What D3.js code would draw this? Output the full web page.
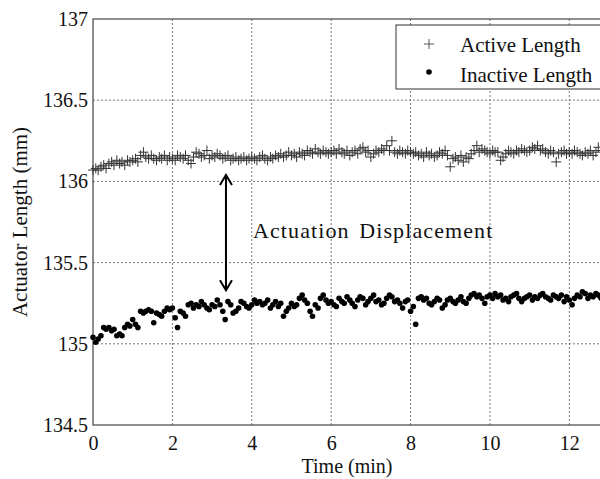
<!DOCTYPE html>
<html>
<head>
<meta charset="utf-8">
<script src="https://cdn.jsdelivr.net/npm/d3@7"></script>
<style>
  body { margin: 0; background: #fff; }
  svg { font-family: "Liberation Serif", "Times New Roman", serif; }
</style>
</head>
<body>
<svg id="svg1" width="600" height="479"></svg>
<script>
// sample times (min)
const times = [
  0.00,0.07,0.13,0.20,0.27,0.33,0.40,0.47,0.53,0.60,0.67,0.73,0.80,0.87,0.93,
  1.00,1.07,1.13,1.20,1.27,1.33,1.40,1.47,1.53,1.60,1.67,1.73,1.80,1.87,1.93,
  2.00,2.07,2.13,2.20,2.27,2.33,2.40,2.47,2.53,2.60,2.67,2.73,2.80,2.87,2.93,
  3.00,3.07,3.13,3.20,3.27,3.33,3.40,3.47,3.53,3.60,3.67,3.73,3.80,3.87,3.93,
  4.00,4.07,4.13,4.20,4.27,4.33,4.40,4.47,4.53,4.60,4.67,4.73,4.80,4.87,4.93,
  5.00,5.07,5.13,5.20,5.27,5.33,5.40,5.47,5.53,5.60,5.67,5.73,5.80,5.87,5.93,
  6.00,6.07,6.13,6.20,6.27,6.33,6.40,6.47,6.53,6.60,6.67,6.73,6.80,6.87,6.93,
  7.00,7.07,7.13,7.20,7.27,7.33,7.40,7.47,7.53,7.60,7.67,7.73,7.80,7.87,7.93,
  8.00,8.07,8.13,8.20,8.27,8.33,8.40,8.47,8.53,8.60,8.67,8.73,8.80,8.87,8.93,
  9.00,9.07,9.13,9.20,9.27,9.33,9.40,9.47,9.53,9.60,9.67,9.73,9.80,9.87,9.93,
  10.00,10.07,10.13,10.20,10.27,10.33,10.40,10.47,10.53,10.60,10.67,10.73,10.80,10.87,10.93,
  11.00,11.07,11.13,11.20,11.27,11.33,11.40,11.47,11.53,11.60,11.67,11.73,11.80,11.87,11.93,
  12.00,12.07,12.13,12.20,12.27,12.33,12.40,12.47,12.53,12.60,12.67,12.73,12.80
];

const activeLength = [
  136.07,136.08,136.07,136.09,136.10,136.08,136.11,136.12,136.10,136.13,136.11,136.12,136.10,136.13,136.12,
  136.13,136.14,136.12,136.16,136.18,136.15,136.14,136.16,136.14,136.13,136.15,136.14,136.16,136.13,136.15,
  136.14,136.13,136.16,136.15,136.14,136.16,136.13,136.11,136.15,136.18,136.17,136.15,136.16,136.19,136.14,
  136.16,136.15,136.17,136.16,136.14,136.15,136.16,136.13,136.14,136.15,136.13,136.14,136.15,136.13,136.14,
  136.15,136.14,136.13,136.15,136.16,136.14,136.13,136.15,136.14,136.16,136.15,136.17,136.15,136.16,136.18,
  136.16,136.17,136.15,136.18,136.17,136.16,136.19,136.18,136.17,136.20,136.18,136.17,136.19,136.18,136.17,
  136.18,136.19,136.17,136.20,136.18,136.17,136.19,136.16,136.18,136.19,136.17,136.20,136.21,136.18,136.19,
  136.15,136.17,136.19,136.18,136.20,136.19,136.22,136.19,136.25,136.18,136.17,136.19,136.18,136.17,136.19,
  136.18,136.17,136.18,136.16,136.17,136.15,136.18,136.16,136.17,136.15,136.16,136.18,136.17,136.19,136.16,
  136.09,136.14,136.15,136.13,136.16,136.12,136.15,136.14,136.17,136.19,136.22,136.18,136.20,136.19,136.18,
  136.17,136.19,136.18,136.18,136.13,136.15,136.17,136.19,136.18,136.17,136.19,136.18,136.20,136.19,136.18,
  136.19,136.21,136.20,136.22,136.19,136.20,136.18,136.17,136.19,136.18,136.12,136.17,136.18,136.19,136.17,
  136.18,136.17,136.19,136.18,136.17,136.16,136.18,136.17,136.19,136.16,136.18,136.21,136.19
];

const inactiveLength = [
  135.04,135.01,135.03,135.05,135.10,135.09,135.10,135.08,135.09,135.05,135.06,135.05,135.10,135.12,135.11,
  135.15,135.12,135.10,135.20,135.19,135.20,135.21,135.20,135.13,135.19,135.18,135.17,135.20,135.22,135.21,
  135.22,135.16,135.10,135.20,135.19,135.17,135.24,135.25,135.22,135.24,135.23,135.26,135.24,135.22,135.21,
  135.24,135.23,135.27,135.24,135.20,135.15,135.26,135.24,135.19,135.20,135.22,135.26,135.25,135.23,135.22,
  135.24,135.27,135.25,135.26,135.24,135.25,135.27,135.22,135.24,135.26,135.23,135.25,135.17,135.20,135.22,
  135.25,135.23,135.24,135.28,135.30,135.27,135.25,135.20,135.17,135.24,135.22,135.28,135.30,135.27,135.25,
  135.26,135.24,135.23,135.28,135.26,135.25,135.29,135.27,135.25,135.23,135.27,135.29,135.28,135.24,135.26,
  135.28,135.30,135.26,135.27,135.24,135.25,135.28,135.30,135.29,135.26,135.27,135.25,135.22,135.26,135.27,
  135.20,135.23,135.12,135.28,135.29,135.27,135.28,135.25,135.24,135.26,135.28,135.27,135.22,135.24,135.27,
  135.28,135.26,135.25,135.27,135.29,135.26,135.25,135.28,135.30,135.31,135.29,135.30,135.28,135.25,135.29,
  135.30,135.28,135.31,135.29,135.30,135.27,135.28,135.26,135.29,135.30,135.31,135.28,135.26,135.28,135.29,
  135.30,135.27,135.29,135.28,135.30,135.31,135.29,135.28,135.27,135.30,135.29,135.28,135.30,135.26,135.29,
  135.27,135.24,135.28,135.30,135.29,135.32,135.31,135.28,135.30,135.29,135.31,135.30,135.28
];

const xTicks = [0, 2, 4, 6, 8, 10, 12];
const yTicks = [134.5, 135, 135.5, 136, 136.5, 137];
const legendLabels = ['Active Length', 'Inactive Length'];
const arrowSpan = {t: 3.35, from: 136.04, to: 135.33};

const svg = d3.select('#svg1');
const m = {left: 93, top: 19, bottom: 425, right: 609};

const x = d3.scaleLinear().domain([0, 13]).range([m.left, m.right]);
const y = d3.scaleLinear().domain([134.5, 137]).range([m.bottom, m.top]);

// grid
const grid = svg.append('g').attr('stroke', '#777').attr('stroke-dasharray', '2,2').attr('stroke-width', 1);
xTicks.filter(d => d > 0).forEach(d => {
  grid.append('line').attr('x1', x(d)).attr('x2', x(d)).attr('y1', m.top).attr('y2', m.bottom);
});
yTicks.filter(d => d > 134.5 && d < 137).forEach(d => {
  grid.append('line').attr('x1', m.left).attr('x2', m.right).attr('y1', y(d)).attr('y2', y(d));
});

// frame
svg.append('rect')
    .attr('x', m.left).attr('y', m.top)
    .attr('width', m.right - m.left).attr('height', m.bottom - m.top)
    .attr('fill', 'none').attr('stroke', '#444').attr('stroke-width', 1.2);

// axes
const xAxis = svg.append('g')
    .attr('transform', `translate(0,${m.bottom})`)
    .call(d3.axisBottom(x).tickValues(xTicks).tickSize(0).tickPadding(10).tickFormat(d3.format('d')));
const yAxis = svg.append('g')
    .attr('transform', `translate(${m.left},0)`)
    .call(d3.axisLeft(y).tickValues(yTicks).tickSize(0).tickPadding(5).tickFormat(d => d));
[xAxis, yAxis].forEach(a => {
  a.select('.domain').remove();
  a.selectAll('text').attr('font-family', '"Liberation Serif", serif').attr('font-size', 20).attr('fill', '#111');
});
xAxis.selectAll('text').attr('dy', '0.75em');

svg.append('text')
    .attr('x', x(6.4)).attr('y', 473)
    .attr('text-anchor', 'middle').attr('font-size', 20).attr('fill', '#111')
    .text('Time (min)');
svg.append('text')
    .attr('transform', `translate(27,${(m.top + m.bottom) / 2}) rotate(-90)`)
    .attr('text-anchor', 'middle').attr('font-size', 21).attr('fill', '#111')
    .text('Actuator Length (mm)');

// data
const active = times.map((t, i) => [t, activeLength[i]]);
const inactive = times.map((t, i) => [t, inactiveLength[i]]);

svg.append('g').selectAll('path').data(active)
  .enter().append('path')
    .attr('d', 'M-5,0H5M0,-5V5')
    .attr('transform', d => `translate(${x(d[0])},${y(d[1])})`)
    .attr('stroke', '#333').attr('stroke-width', 1).attr('fill', 'none');

svg.append('g').selectAll('circle').data(inactive)
  .enter().append('circle')
    .attr('cx', d => x(d[0])).attr('cy', d => y(d[1]))
    .attr('r', 2.8).attr('fill', '#000');

// annotation arrow
const ax = x(arrowSpan.t), ay1 = y(arrowSpan.from), ay2 = y(arrowSpan.to);
svg.append('path')
    .attr('d', `M${ax},${ay1}V${ay2}M${ax - 6},${ay1 + 10}L${ax},${ay1}L${ax + 6},${ay1 + 10}M${ax - 6},${ay2 - 10}L${ax},${ay2}L${ax + 6},${ay2 - 10}`)
    .attr('stroke', '#000').attr('stroke-width', 2).attr('fill', 'none');
svg.append('text')
    .attr('x', 253).attr('y', 238)
    .attr('font-size', 22).attr('letter-spacing', 1.1).attr('word-spacing', 3).attr('fill', '#111')
    .text('Actuation Displacement');

// legend
const lg = svg.append('g');
lg.append('rect').attr('x', 396).attr('y', 25).attr('width', 230).attr('height', 64)
    .attr('fill', '#fff').attr('stroke', '#333').attr('stroke-width', 1);
lg.append('path').attr('d', 'M424,44H434M429,39V49').attr('stroke', '#555').attr('stroke-width', 1);
lg.append('circle').attr('cx', 429).attr('cy', 72).attr('r', 2.8).attr('fill', '#000');
lg.selectAll('text.lab').data(legendLabels).enter().append('text')
    .attr('class', 'lab')
    .attr('x', 460).attr('y', (d, i) => 52 + i * 30)
    .attr('font-size', 21).attr('fill', '#111')
    .text(d => d);
</script>
</body>
</html>
